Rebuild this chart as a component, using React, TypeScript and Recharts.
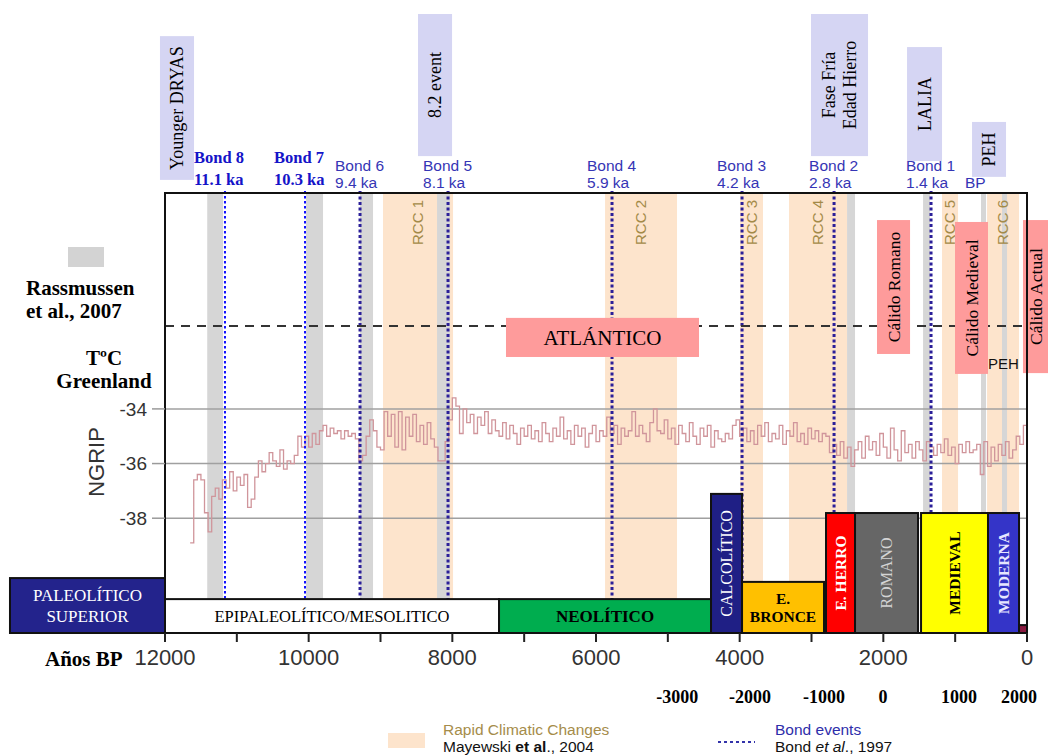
import React from 'react';
import { ComposedChart, Line, XAxis, YAxis, ReferenceArea, ReferenceLine } from 'recharts';

const W = 1048;
const H = 756;
const SERIF = "'Liberation Serif', 'Times New Roman', serif";
const SANS = "'Liberation Sans', Arial, sans-serif";

// NGRIP record (years BP), one reading every 50 years from 11650 BP
const ngripFrom = 11650;
const ngripStep = 50;
const ngripValues = [
  -38.9, -36.6, -36.4, -36.6, -37.8, -38.5, -37.2, -36.9, -37.3, -36.6, -36.9, -36.3, -37.0, -36.5,
  -36.8, -36.4, -37.6, -37.3, -36.5, -35.9, -36.3, -36.0, -35.6, -35.9, -36.1, -35.5, -36.2, -35.9, -36.0, -35.7, -35.0, -35.4, -35.0, -35.4,
  -34.9, -35.3, -34.8, -34.6, -35.0, -34.7, -34.9, -34.8, -35.1, -34.8, -35.0, -34.9, -35.1, -35.9, -35.7, -35.0, -34.4, -34.8, -35.4, -35.5,
  -34.1, -35.0, -34.2, -35.4, -34.1, -35.5, -34.3, -35.0, -34.2, -35.2, -34.6, -35.3, -34.5, -35.1, -35.4, -35.9, -35.9, -35.2, -34.4, -33.6,
  -33.9, -34.9, -34.0, -34.5, -34.2, -34.9, -34.3, -34.6, -34.1, -34.9, -34.4, -34.8, -35.0, -34.5, -35.1, -34.6, -34.9, -35.3, -34.7, -35.0,
  -34.6, -35.1, -34.8, -35.2, -34.5, -34.9, -35.2, -34.7, -35.0, -34.3, -35.1, -34.8, -35.3, -34.6, -35.0, -34.7, -35.4, -34.9, -34.6, -35.2,
  -34.8, -35.0, -34.3, -34.9, -34.6, -35.3, -34.7, -35.0, -34.8, -34.1, -35.0, -34.6, -34.9, -35.2, -34.5, -34.0, -34.8, -34.9, -34.4, -35.1,
  -34.7, -35.3, -34.6, -34.9, -35.2, -34.5, -35.0, -35.3, -34.7, -35.0, -34.6, -35.4, -34.8, -35.1, -35.2, -34.9, -35.1, -34.6, -34.4, -35.0,
  -34.7, -35.2, -34.8, -35.3, -34.6, -35.0, -34.5, -35.2, -34.9, -35.1, -34.6, -35.3, -34.8, -35.0, -34.5, -35.2, -34.9, -35.3, -34.7, -35.1,
  -34.8, -35.2, -34.9, -35.0, -35.6, -35.3, -35.7, -35.2, -35.8, -35.4, -36.1, -35.5, -35.2, -35.8, -35.0, -35.5, -35.2, -35.7, -34.9, -35.4,
  -35.8, -34.7, -35.5, -35.9, -34.8, -35.6, -35.3, -35.8, -35.2, -35.5, -35.9, -35.2, -35.4, -35.7, -35.3, -35.6, -35.1, -35.7, -35.4, -36.0,
  -35.3, -35.6, -35.2, -35.6, -35.5, -35.3, -36.4, -35.2, -36.1, -35.4, -35.9, -35.3, -35.7, -35.2, -35.8, -35.5, -35.0, -35.3, -34.6, -35.0,
];
const chartData = ngripValues.map((v, i) => ({ age: ngripFrom - i * ngripStep, ngrip: v }));

const xTicks = [12000, 11000, 10000, 9000, 8000, 7000, 6000, 5000, 4000, 3000, 2000, 1000, 0];
const yTicks = [-38, -36, -34];
// calendar years (BC/AD) read against the BP axis
const calendarTicks = [4870, 3855, 2825, 2005, 945, 110];
const calendarLabels = ['-3000', '-2000', '-1000', '0', '1000', '2000'];
const rassmussenLimit = -30.97;

// Rapid Climatic Changes (Mayewski et al., 2004)
const rccBands = [
  { name: 'RCC 1', from: 8965, to: 7990 },
  { name: 'RCC 2', from: 5874, to: 4872 },
  { name: 'RCC 3', from: 3995, to: 3675 },
  { name: 'RCC 4', from: 3313, to: 2505 },
  { name: 'RCC 5', from: 1183, to: 960 },
  { name: 'RCC 6', from: 556, to: 111 },
];

// cold events, Rassmussen et al., 2007
const coldBands = [
  { from: 11412, to: 11192 },
  { from: 10037, to: 9800 },
  { from: 9285, to: 9104 },
  { from: 8213, to: 8032 },
  { from: 2505, to: 2394 },
  { from: 1447, to: 1350 },
  { from: 640, to: 570 },
  { from: 348, to: 278 },
];

const bondEvents = [
  { name: 'Bond 8', ka: '11.1 ka', age: 11165 },
  { name: 'Bond 7', ka: '10.3 ka', age: 10051 },
  { name: 'Bond 6', ka: '9.4 ka', age: 9285 },
  { name: 'Bond 5', ka: '8.1 ka', age: 8060 },
  { name: 'Bond 4', ka: '5.9 ka', age: 5777 },
  { name: 'Bond 3', ka: '4.2 ka', age: 3967 },
  { name: 'Bond 2', ka: '2.8 ka', age: 2686 },
  { name: 'Bond 1', ka: '1.4 ka', age: 1336 },
];

const coldPhases = [
  { name: 'Younger DRYAS', from: 12070, to: 11596, high: -20.36, low: -25.62 },
  { name: '8.2 event', from: 8478, to: 8004, high: -19.55, low: -24.75 },
  { name: 'Fase Fría|Edad Hierro', from: 3007, to: 2213, high: -19.55, low: -24.75 },
  { name: 'LALIA', from: 1670, to: 1183, high: -20.76, low: -24.93 },
  { name: 'PEH', from: 765, to: 292, high: -23.5, low: -25.51 },
];

const warmPhases = [
  { name: 'ATLÁNTICO', from: 7253, to: 4566, high: -30.67, low: -32.1 },
  { name: 'Cálido Romano', from: 2088, to: 1628, high: -27.09, low: -31.99 },
  { name: 'Cálido Medieval', from: 1002, to: 543, high: -27.16, low: -32.72 },
  { name: 'Cálido Actual', from: 56, to: -293, high: -27.09, low: -32.69 },
];

const periods = [
  { name: 'PALEOLÍTICO|SUPERIOR', from: 14158, to: 12000, high: -40.19 },
  { name: 'EPIPALEOLÍTICO/MESOLITICO', from: 12000, to: 7350, high: -40.96 },
  { name: 'NEOLÍTICO', from: 7350, to: 4399, high: -40.96 },
  { name: 'CALCOLÍTICO', from: 4399, to: 3967, high: -37.11 },
  { name: 'E.|BRONCE', from: 3967, to: 2826, high: -40.33 },
  { name: 'E. HERRO', from: 2798, to: 2394, high: -37.81 },
  { name: 'ROMANO', from: 2394, to: 1517, high: -37.81 },
  { name: 'MEDIEVAL', from: 1475, to: 543, high: -37.81 },
  { name: 'MODERNA', from: 543, to: 111, high: -37.81 },
  { name: '', from: 111, to: 0, high: -41.91 },
];
const periodFloor = -42.2;

const periodLook: Record<string, any> = {
  'PALEOLÍTICO|SUPERIOR': { fill: '#23238c', color: '#fff', size: 17 },
  'EPIPALEOLÍTICO/MESOLITICO': { fill: '#fff', color: '#000', size: 16.5 },
  'NEOLÍTICO': { fill: '#00ad4f', color: '#000', size: 17, bold: true },
  'CALCOLÍTICO': { fill: '#1f1f85', color: '#fff', size: 16, vertical: true },
  'E.|BRONCE': { fill: '#ffc000', color: '#000', size: 15.5, bold: true },
  'E. HERRO': { fill: '#ff0000', color: '#fff', size: 15.5, bold: true, vertical: true },
  'ROMANO': { fill: '#666666', color: '#d4d4d4', size: 16, vertical: true },
  'MEDIEVAL': { fill: '#ffff00', color: '#000', size: 15.5, bold: true, vertical: true },
  'MODERNA': { fill: '#3434c8', color: '#e6e6ff', size: 15.5, bold: true, vertical: true },
  '': { fill: '#8a1a40', color: '#fff', size: 10 },
};

const TextBox = ({ x, y, width, height, fill, stroke, lines, vertical, size, color, bold, family }: any) => {
  const cx = x + width / 2;
  const cy = y + height / 2;
  const lh = size * 1.18;
  const n = lines.length;
  return (
    <g>
      <rect x={x} y={y} width={width} height={height} fill={fill} stroke={stroke || 'none'} strokeWidth={stroke ? 2 : 0} />
      <text
        x={cx}
        y={cy}
        transform={vertical ? `rotate(-90 ${cx} ${cy})` : undefined}
        textAnchor="middle"
        fontSize={size}
        fill={color}
        fontWeight={bold ? 700 : 400}
        fontFamily={family}
      >
        {lines.map((l: string, i: number) => (
          <tspan key={i} x={cx} dy={i === 0 ? size * 0.35 - ((n - 1) / 2) * lh : lh}>
            {l}
          </tspan>
        ))}
      </text>
    </g>
  );
};

const RccLabel = (p: any, name: string) => {
  const cx = p.x + p.width / 2;
  const ty = p.y + 7;
  return (
    <text x={cx} y={ty} dy="0.35em" transform={`rotate(-90 ${cx} ${ty})`} textAnchor="end" fontSize={15} fontFamily={SANS} fill="#a38a48">
      {name}
    </text>
  );
};

const BondShape = (p: any, ev: any, idx: number) => {
  const top = Math.min(p.y1, p.y2);
  const bottom = Math.max(p.y1, p.y2);
  const old = idx < 2;
  const tx = p.x1 + (old ? -31 : -25);
  const font = { fontSize: old ? 16.5 : 15.5, fontWeight: old ? 700 : 400, fontFamily: old ? SERIF : SANS, fill: old ? '#1414c8' : '#3535b5' };
  return (
    <g>
      <line
        x1={p.x1}
        x2={p.x1}
        y1={top - 2}
        y2={bottom}
        stroke={old ? '#1010ff' : '#2b1f99'}
        strokeWidth={old ? 2 : 3}
        strokeDasharray={old ? '2.5 2.5' : '3 2.5'}
      />
      <text x={tx} y={top - (old ? 30 : 22)} {...font}>
        {ev.name}
      </text>
      <text x={tx} y={top - (old ? 8 : 5)} {...font}>
        {ev.ka}
      </text>
      {idx === bondEvents.length - 1 && (
        <text x={tx + 59} y={top - 5} {...font}>
          BP
        </text>
      )}
    </g>
  );
};

const CalendarTick = (p: any, label: string) => {
  const bottom = Math.max(p.y1, p.y2);
  return (
    <text x={p.x1} y={bottom + 70} textAnchor="middle" fontSize={18} fontWeight={700} fontFamily={SERIF} fill="#000">
      {label}
    </text>
  );
};

export default function App() {
  return (
    <div style={{ position: 'relative', width: W, height: H }}>
      <style>{'body{margin:0}'}</style>
      <ComposedChart width={W} height={H} data={chartData} margin={{ top: 193, right: 21, bottom: 73, left: 0 }}>
        <XAxis
          dataKey="age"
          type="number"
          domain={[0, 12000]}
          reversed
          allowDataOverflow
          ticks={xTicks}
          interval={0}
          tickFormatter={(v: number) => (v % 2000 === 0 ? String(v) : '')}
          axisLine={{ stroke: '#111', strokeWidth: 2 }}
          tickLine={{ stroke: '#222', strokeWidth: 2 }}
          tickSize={9}
          tickMargin={7}
          height={50}
          tick={{ fill: '#333', fontSize: 22, fontFamily: SANS }}
        />
        <YAxis
          type="number"
          domain={[-42.2, -26.1]}
          allowDataOverflow
          ticks={yTicks}
          interval={0}
          width={165}
          axisLine={false}
          tickLine={{ stroke: '#9a9a9a', strokeWidth: 1.5 }}
          tickSize={13}
          tickMargin={5}
          tick={{ fill: '#333', fontSize: 19, fontFamily: SANS }}
        />

        {rccBands.map((b) => (
          <ReferenceArea key={b.name} x1={b.from} x2={b.to} ifOverflow="visible" zIndex={10} fill="#fde4cc" fillOpacity={1} stroke="none" />
        ))}
        {coldBands.map((b, i) => (
          <ReferenceArea key={'c' + i} x1={b.from} x2={b.to} ifOverflow="visible" zIndex={11} fill="#d6d6d6" fillOpacity={1} stroke="none" />
        ))}
        {rccBands.map((b) => (
          <ReferenceArea key={'l' + b.name} x1={b.from} x2={b.to} ifOverflow="visible" zIndex={12} shape={(p: any) => RccLabel(p, b.name)} />
        ))}
        {yTicks.map((t) => (
          <ReferenceLine key={t} y={t} stroke="#a0a0a0" strokeWidth={1.5} zIndex={20} />
        ))}

        <Line
          dataKey="ngrip"
          type="stepAfter"
          stroke="#d0959b"
          strokeWidth={1.3}
          dot={false}
          activeDot={false}
          isAnimationActive={false}
          zIndex={30}
        />

        {bondEvents.map((ev, i) => (
          <ReferenceLine key={ev.name} x={ev.age} ifOverflow="visible" zIndex={40} shape={(p: any) => BondShape(p, ev, i)} />
        ))}
        <ReferenceLine y={rassmussenLimit} stroke="#333" strokeWidth={2} strokeDasharray="9 7" zIndex={40} />
        {calendarTicks.map((t, i) => (
          <ReferenceLine key={'cal' + t} x={t} ifOverflow="visible" zIndex={40} shape={(p: any) => CalendarTick(p, calendarLabels[i])} />
        ))}

        {warmPhases.map((w) => (
          <ReferenceArea
            key={w.name}
            x1={w.from}
            x2={w.to}
            y1={w.low}
            y2={w.high}
            ifOverflow="visible"
            zIndex={60}
            shape={(p: any) => (
              <TextBox
                {...p}
                fill="#fe9b9b"
                lines={[w.name]}
                vertical={w.name !== 'ATLÁNTICO'}
                size={w.name === 'ATLÁNTICO' ? 21 : 17.5}
                color="#000"
                family={SERIF}
              />
            )}
          />
        ))}
        <ReferenceArea
          x1={584}
          x2={69}
          y1={-32.03}
          y2={-32.65}
          ifOverflow="visible"
          zIndex={60}
          shape={(p: any) => <TextBox {...p} fill="none" lines={['PEH']} size={15} color="#111" family={SANS} />}
        />
        {coldPhases.map((c) => (
          <ReferenceArea
            key={c.name}
            x1={c.from}
            x2={c.to}
            y1={c.low}
            y2={c.high}
            ifOverflow="visible"
            zIndex={60}
            shape={(p: any) => (
              <TextBox {...p} fill="#d5d5f3" lines={c.name.split('|')} vertical size={18} color="#000" family={SERIF} />
            )}
          />
        ))}
        {periods.map((pr) => {
          const look = periodLook[pr.name];
          return (
            <ReferenceArea
              key={pr.name || 'contemp'}
              x1={pr.from}
              x2={pr.to}
              y1={periodFloor}
              y2={pr.high}
              ifOverflow="visible"
              zIndex={65}
              shape={(p: any) => (
                <TextBox
                  {...p}
                  fill={look.fill}
                  stroke="#111"
                  lines={pr.name ? pr.name.split('|') : []}
                  vertical={look.vertical}
                  size={look.size}
                  bold={look.bold}
                  color={look.color}
                  family={SERIF}
                />
              )}
            />
          );
        })}
        <ReferenceArea x1={12000} x2={0} y1={-42.2} y2={-26.1} ifOverflow="visible" zIndex={70} fill="none" stroke="#111" strokeWidth={2} />
      </ComposedChart>

      <svg width={W} height={H} style={{ position: 'absolute', left: 0, top: 0, pointerEvents: 'none' }}>
        <rect x={68} y={247} width={36} height={20} fill="#d3d3d3" />
        <g fontFamily={SERIF} fontWeight={700} fontSize={21} fill="#000">
          <text x={26} y={295}>Rassmussen</text>
          <text x={26} y={318}>et al., 2007</text>
          <text x={104} y={365} textAnchor="middle">TºC</text>
          <text x={104} y={388} textAnchor="middle">Greenland</text>
          <text x={45} y={666}>Años BP</text>
        </g>
        <text x={96} y={462} dy="0.35em" transform="rotate(-90 96 462)" textAnchor="middle" fontFamily={SANS} fontSize={22} fill="#333">
          NGRIP
        </text>

        <rect x={388} y={733} width={37} height={15} fill="#fde4cc" />
        <text x={443} y={735} fontFamily={SANS} fontSize={15.5} fill="#a58c4a">Rapid Climatic Changes</text>
        <text x={443} y={752} fontFamily={SANS} fontSize={15.5} fill="#111">
          Mayewski <tspan fontWeight={700}>et al</tspan>., 2004
        </text>
        <line x1={718} x2={755} y1={742} y2={742} stroke="#3333aa" strokeWidth={2} strokeDasharray="3 3" />
        <text x={775} y={735} fontFamily={SANS} fontSize={15.5} fill="#2e2eaa">Bond events</text>
        <text x={775} y={752} fontFamily={SANS} fontSize={15.5} fill="#111">
          Bond <tspan fontStyle="italic">et al</tspan>., 1997
        </text>
      </svg>
    </div>
  );
}
